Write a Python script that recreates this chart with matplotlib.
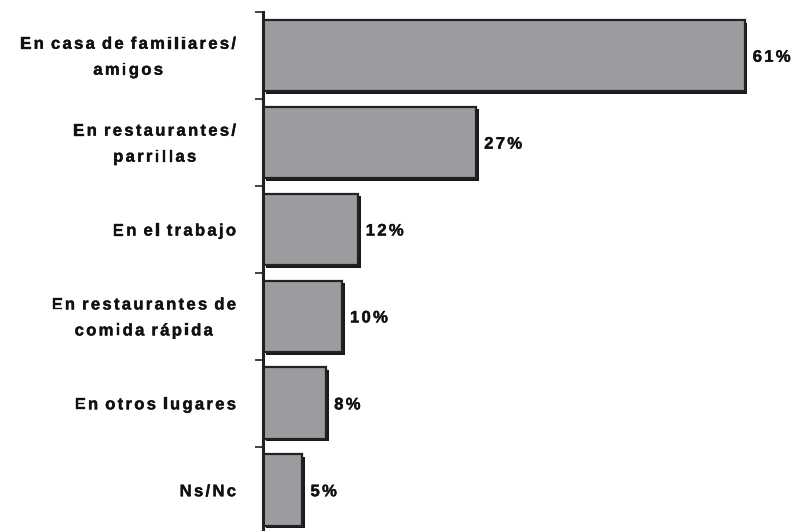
import matplotlib
matplotlib.use("Agg")
import matplotlib.pyplot as plt
import matplotlib.patheffects as pe
from matplotlib.font_manager import FontProperties, findfont, get_font
from matplotlib.transforms import IdentityTransform
import numpy as np

categories = [
    "En casa de familiares/\namigos",
    "En restaurantes/\nparrillas",
    "En el trabajo",
    "En restaurantes de\ncomida rápida",
    "En otros lugares",
    "Ns/Nc",
]
values = [61, 27, 12, 10, 8, 5]
value_labels = ["61%", "27%", "12%", "10%", "8%", "5%"]

DPI = 100
W, H = 801, 531
plt.rcParams["font.family"] = ["Liberation Sans", "DejaVu Sans"]

fig = plt.figure(figsize=(W / DPI, H / DPI), dpi=DPI)
band = 86.9
n = len(categories)
ax_top = 12
ax_h = band * n
ax = fig.add_axes([263 / W, (H - ax_top - ax_h) / H, 537 / W, ax_h / H])

y = np.arange(n)
shadow = [pe.SimplePatchShadow(offset=(2.0, -2.0), shadow_rgbFace="#1a1a1a", alpha=1.0), pe.Normal()]
bars = ax.barh(y, values, height=0.82, color="#9c9ca0", edgecolor="#222222",
               linewidth=1.6, zorder=3)
for b in bars:
    b.set_path_effects(shadow)

ax.set_xlim(0, 68)
ax.set_ylim(n - 0.5, -0.5)

ax.set_yticks(y)
ax.set_yticklabels([])
ax.tick_params(axis="y", which="major", length=0)
ax.set_yticks(np.arange(-0.5, n - 0.5, 1.0), minor=True)
ax.tick_params(axis="y", which="minor", length=6, width=1.2, direction="out", color="#222222")
ax.set_xticks([])

for s in ["top", "right", "bottom"]:
    ax.spines[s].set_visible(False)
ax.spines["left"].set_linewidth(2.2)
ax.spines["left"].set_color("#222222")
ax.spines["left"].set_zorder(5)

# Text is drawn character by character so that it gets extra letter spacing.
text_size = 12
prop = FontProperties(family="Liberation Sans", weight="bold", size=text_size)
ft = get_font(findfont(prop))
ft.set_size(text_size, DPI)
space_em = 0.15
heavy = [pe.withStroke(linewidth=0.25, foreground="#111111")]


def advance(ch):
    if ch == " ":
        return space_em * text_size * DPI / 72
    g = ft.load_char(ord(ch))
    return g.linearHoriAdvance / 65536.0


def line_width(s, track):
    return sum(advance(c) for c in s) + track * (len(s) - 1)


def draw_tracked(x, base, s, track):
    for ch in s:
        if ch != " ":
            fig.text(x, base, ch, transform=IdentityTransform(),
                     fontproperties=prop, ha="left", va="baseline",
                     color="#111111", path_effects=heavy)
        x += advance(ch) + track


label_track = 2.3
value_track = 2.3
line_gap = 26
base_shift = 6.3      # baseline midpoint sits slightly below the band centre

ax_left_px = ax.transAxes.transform((0, 0))[0]
right_edge = ax_left_px - 27

for yi, cat in zip(y, categories):
    lines = cat.split("\n")
    widths = [line_width(l, label_track) for l in lines]
    block_w = max(widths)
    cx = right_edge - block_w / 2
    cy = ax.transData.transform((0, yi))[1]
    m = len(lines)
    for k, (line, w) in enumerate(zip(lines, widths)):
        base = cy - base_shift - (k - (m - 1) / 2) * line_gap
        draw_tracked(cx - w / 2, base, line, label_track)

for yi, v, lab in zip(y, values, value_labels):
    px, py = ax.transData.transform((v, yi))
    draw_tracked(px + 8, py - base_shift, lab, value_track)

fig.savefig("out.png", dpi=DPI)
